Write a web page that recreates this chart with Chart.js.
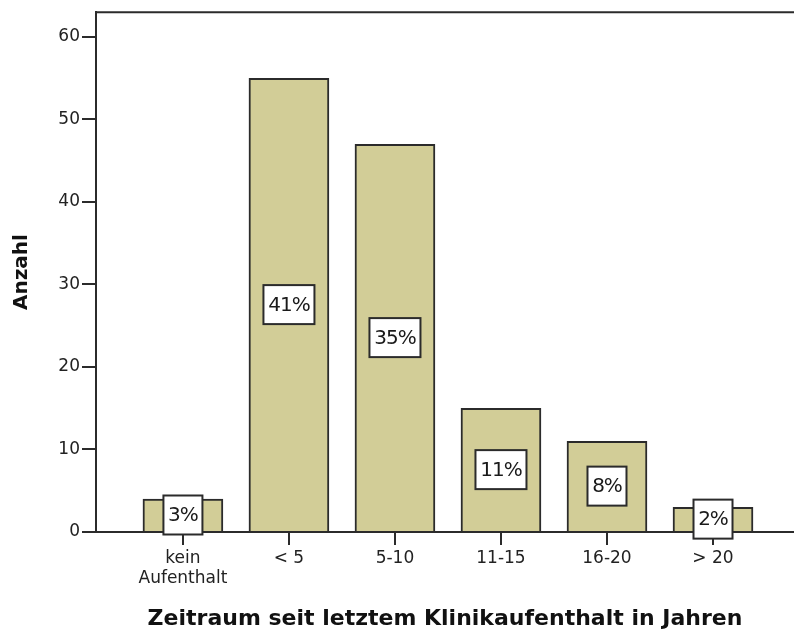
<!DOCTYPE html>
<html>
<head>
<meta charset="utf-8">
<script src="https://cdn.jsdelivr.net/npm/chart.js@4"></script>
<style>
  html, body { margin: 0; padding: 0; background: #fff; }
  #wrap { width: 794px; height: 637px; position: relative; }
</style>
</head>
<body>
<div id="wrap"><canvas id="chart"></canvas></div>
<script>
const categories = [["kein", "Aufenthalt"], "< 5", "5-10", "11-15", "16-20", "> 20"];
const counts = [4, 55, 47, 15, 11, 3];
const percentLabels = ["3%", "41%", "35%", "11%", "8%", "2%"];
const yTicks = [0, 10, 20, 30, 40, 50, 60];

const ink = "#2b2b2b";
const barFill = "#d2cd97";

// boxed percentage labels in the middle of each bar
const boxLabels = {
  id: "boxLabels",
  afterDraw(chart) {
    const ctx = chart.ctx;
    const meta = chart.getDatasetMeta(0);
    ctx.save();
    ctx.font = "20px 'DejaVu Sans', sans-serif";
    ctx.textAlign = "center";
    ctx.textBaseline = "middle";
    meta.data.forEach((bar, i) => {
      const text = percentLabels[i];
      const cy = (bar.y + bar.base) / 2;
      const w = text.length > 2 ? 51 : 39;
      const h = 39;
      ctx.fillStyle = "#fff";
      ctx.fillRect(bar.x - w / 2, cy - h / 2, w, h);
      ctx.strokeStyle = ink;
      ctx.lineWidth = 2;
      ctx.strokeRect(bar.x - w / 2, cy - h / 2, w, h);
      ctx.fillStyle = "#1a1a1a";
      ctx.letterSpacing = "-1px";
      ctx.fillText(text, bar.x, cy + 1);
      ctx.letterSpacing = "0px";
    });
    // top frame line
    const a = chart.chartArea;
    ctx.strokeStyle = ink;
    ctx.lineWidth = 2;
    ctx.beginPath();
    ctx.moveTo(a.left, a.top);
    ctx.lineTo(a.right, a.top);
    ctx.stroke();
    ctx.restore();
  }
};

new Chart(document.getElementById("chart"), {
  type: "bar",
  data: {
    datasets: [{
      data: counts.map((v, i) => ({ x: i, y: v })),
      backgroundColor: barFill,
      borderColor: ink,
      borderWidth: 2,
      barThickness: 80
    }]
  },
  options: {
    responsive: true,
    maintainAspectRatio: false,
    animation: false,
    layout: { padding: { top: 12, right: 0, left: 0, bottom: 0 } },
    plugins: {
      legend: { display: false },
      tooltip: { enabled: false }
    },
    scales: {
      x: {
        type: "linear",
        offset: false,
        min: -0.82,
        max: 5.764,
        afterBuildTicks: scale => {
          scale.ticks = categories.map((c, i) => ({ value: i }));
        },
        afterFit: scale => { scale.height = 105; },
        grid: {
          offset: false,
          drawOnChartArea: false,
          drawTicks: true,
          tickLength: 13,
          color: ink,
          lineWidth: 2
        },
        border: { color: ink, width: 2 },
        ticks: {
          color: "#222",
          padding: 3,
          maxRotation: 0,
          autoSkip: false,
          font: { family: "'DejaVu Sans', sans-serif", size: 17 },
          callback: value => categories[value]
        },
        title: {
          display: true,
          text: "Zeitraum seit letztem Klinikaufenthalt in Jahren",
          color: "#111",
          font: { family: "'DejaVu Sans', sans-serif", size: 22, weight: "bold" },
          padding: { top: 0, bottom: 5 }
        }
      },
      y: {
        min: 0,
        max: 63,
        afterBuildTicks: scale => {
          scale.ticks = yTicks.map(v => ({ value: v }));
        },
        afterFit: scale => { scale.width = 96; },
        grid: {
          drawOnChartArea: false,
          drawTicks: true,
          tickLength: 14,
          color: ink,
          lineWidth: 2
        },
        border: { color: ink, width: 2 },
        ticks: {
          color: "#222",
          padding: 2,
          font: { family: "'DejaVu Sans', sans-serif", size: 17 }
        },
        title: {
          display: true,
          text: "Anzahl",
          color: "#111",
          font: { family: "'DejaVu Sans', sans-serif", size: 20, weight: "bold" },
          padding: { top: 10, bottom: 0 }
        }
      }
    }
  },
  plugins: [boxLabels]
});
</script>
</body>
</html>
